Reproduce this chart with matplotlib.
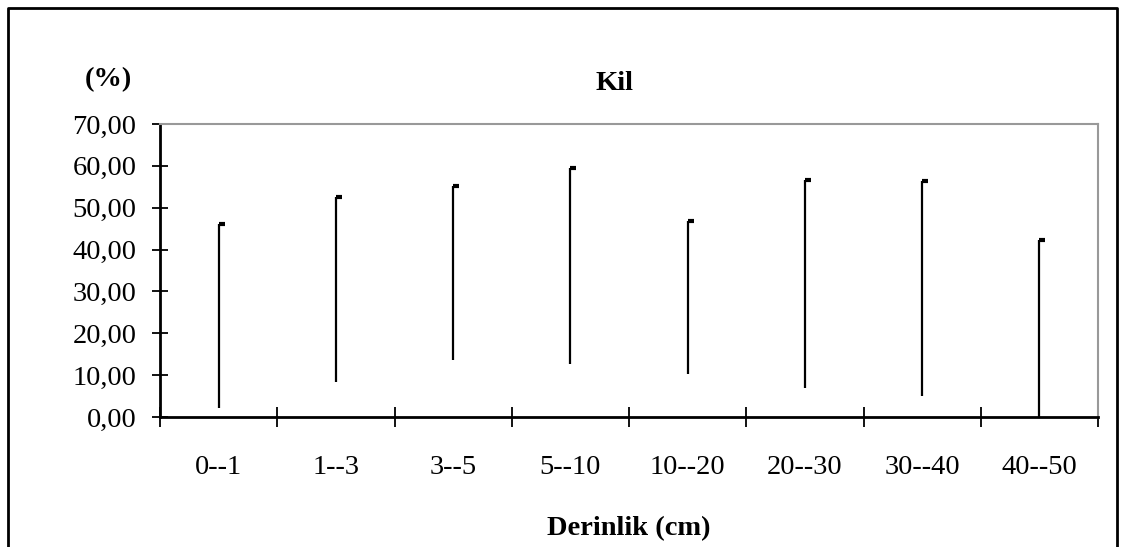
import matplotlib.pyplot as plt
import numpy as np
from matplotlib.lines import Line2D

plt.rcParams['font.family'] = ['Liberation Serif', 'DejaVu Serif']

# Data
depths = ['0--1', '1--3', '3--5', '5--10', '10--20', '20--30', '30--40', '40--50']
high = [46.0, 52.6, 55.1, 59.4, 46.8, 56.6, 56.4, 42.3]
low = [2.2, 8.4, 13.6, 12.7, 10.3, 7.0, 5.1, 0.0]
close = [46.0, 52.6, 55.1, 59.4, 46.8, 56.6, 56.4, 42.3]

fs = 20.5

fig = plt.figure(figsize=(11.22, 5.47), dpi=100)
ax = fig.add_axes([160/1122, 1-417/547, (1098-160)/1122, (417-124)/547])

x = np.arange(len(depths))
ax.vlines(x, low, high, color='black', linewidth=1.6)
ax.plot(x, close, linestyle='none', marker=1, markersize=4, markeredgewidth=3, color='black')

ax.set_xlim(-0.5, len(depths) - 0.5)
ax.set_ylim(0, 70)
ax.set_yticks(np.arange(0, 71, 10))
ax.set_yticklabels([f'{v:.2f}'.replace('.', ',') for v in np.arange(0, 71, 10)], fontsize=fs)
ax.set_xticks(x)
ax.set_xticklabels(depths, fontsize=fs)
ax.set_xticks(np.arange(-0.5, len(depths)), minor=True)
ax.tick_params(axis='x', which='major', length=0, pad=27)
ax.tick_params(axis='x', which='minor', direction='inout', length=14, width=1.3)
ax.tick_params(axis='y', direction='inout', length=12, width=1.3, pad=11)

for s in ['left', 'bottom']:
    ax.spines[s].set_linewidth(2)
    ax.spines[s].set_color('black')
for s in ['top', 'right']:
    ax.spines[s].set_linewidth(1.5)
    ax.spines[s].set_color('#999999')

ax.set_xlabel('Derinlik (cm)', fontsize=fs, fontweight='bold', labelpad=26)
fig.text(614/1122, 1-84/547, 'Kil', fontsize=fs, fontweight='bold', ha='center', va='center')
fig.text(108/1122, 1-80/547, '(%)', fontsize=fs, fontweight='bold', ha='center', va='center')

# outer frame (open at bottom)
fx = [8/1122, 8/1122, 1117/1122, 1117/1122]
fy = [0, 1-8/547, 1-8/547, 0]
fig.add_artist(Line2D(fx, fy, transform=fig.transFigure, color='black', linewidth=2))

fig.savefig('out.png', dpi=100)
